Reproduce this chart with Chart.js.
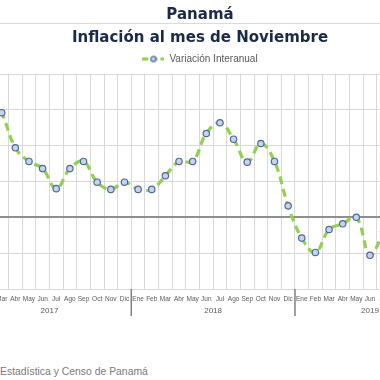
<!DOCTYPE html>
<html>
<head>
<meta charset="utf-8">
<script src="https://cdn.jsdelivr.net/npm/chart.js@4.4.1/dist/chart.umd.min.js"></script>
<style>
  html, body { margin: 0; padding: 0; background: #fff; }
  #wrap { position: relative; width: 380px; height: 380px; overflow: hidden; }
  #rule { position: absolute; left: 0; top: 23px; width: 380px; height: 1px; background: #d9d9d9; }
  #chart { position: absolute; left: -60px; top: 0; }
  #source { position: absolute; left: 0; top: 366px; font: 10.4px "Liberation Sans", sans-serif; color: #7a7a7a; white-space: nowrap; }
</style>
</head>
<body>
<div id="wrap">
  <div id="rule"></div>
  <canvas id="chart" width="520" height="330"></canvas>
  <div id="source">Estadística y Censo de Panamá</div>
</div>
<script>
const months = ['Ene', 'Feb', 'Mar', 'Abr', 'May', 'Jun', 'Jul', 'Ago', 'Sep', 'Oct', 'Nov', 'Dic',
                'Ene', 'Feb', 'Mar', 'Abr', 'May', 'Jun', 'Jul', 'Ago', 'Sep', 'Oct', 'Nov', 'Dic',
                'Ene', 'Feb', 'Mar', 'Abr', 'May', 'Jun', 'Jul', 'Ago', 'Sep', 'Oct', 'Nov'];
const years = ['2017', '2018', '2019'];
const yearStart = [0, 12, 24];
const yearEnd = [11, 23, 34];

// variación interanual (%)
const variacion = [null, 1.80, 1.46, 0.97, 0.78, 0.68, 0.40, 0.68, 0.78, 0.49, 0.39, 0.49,
                   0.39, 0.39, 0.58, 0.78, 0.78, 1.17, 1.32, 1.09, 0.77, 1.03, 0.78, 0.16,
                   -0.29, -0.49, -0.17, -0.09, 0.00, -0.53, -0.20, null, null, null, null];

// marcador de la leyenda: trazo discontinuo + círculo
const marker = document.createElement('canvas');
marker.width = 22;
marker.height = 9;
(function () {
    const c = marker.getContext('2d');
    c.strokeStyle = '#92d050';
    c.lineWidth = 3;
    c.setLineDash([6, 3]);
    c.beginPath();
    c.moveTo(0, 4.5);
    c.lineTo(22, 4.5);
    c.stroke();
    c.setLineDash([]);
    c.beginPath();
    c.arc(11, 4.5, 2.6, 0, Math.PI * 2);
    c.fillStyle = '#c9d3e3';
    c.fill();
    c.lineWidth = 1.2;
    c.strokeStyle = '#4a68a0';
    c.stroke();
})();

const yearLabels = {
    id: 'yearLabels',
    afterDraw(chart) {
        const ctx = chart.ctx;
        const x = chart.scales.x;
        const bottom = chart.chartArea.bottom;
        ctx.save();
        ctx.font = '8px "Liberation Sans", sans-serif';
        ctx.fillStyle = '#595959';
        ctx.textAlign = 'center';
        ctx.textBaseline = 'middle';
        years.forEach((y, i) => {
            const cx = (x.getPixelForValue(yearStart[i]) + x.getPixelForValue(yearEnd[i])) / 2;
            ctx.fillText(y, cx, bottom + 22);
        });
        ctx.strokeStyle = '#7f7f7f';
        ctx.lineWidth = 1.5;
        [11, 23].forEach((i) => {
            const sx = (x.getPixelForValue(i) + x.getPixelForValue(i + 1)) / 2;
            ctx.beginPath();
            ctx.moveTo(sx, bottom);
            ctx.lineTo(sx, bottom + 27);
            ctx.stroke();
        });
        ctx.restore();
    }
};

new Chart(document.getElementById('chart'), {
    type: 'line',
    data: {
        labels: months,
        datasets: [{
            label: 'Variación Interanual',
            data: variacion,
            borderColor: '#92d050',
            borderWidth: 3.2,
            borderDash: [8, 5],
            tension: 0.4,
            pointRadius: 3.2,
            pointBorderWidth: 1.2,
            pointBackgroundColor: '#c9d3e3',
            pointBorderColor: '#4a68a0',
        }],
    },
    options: {
        responsive: false,
        devicePixelRatio: 1,
        animation: false,
        layout: { padding: { left: 15, right: 15, top: 0, bottom: 0 } },
        plugins: {
            title: {
                display: true,
                text: 'Panamá',
                color: '#1b2a47',
                font: { family: '"DejaVu Sans", sans-serif', size: 15, weight: 'bold', lineHeight: 1.2 },
                padding: { top: 6, bottom: 5 },
            },
            subtitle: {
                display: true,
                text: 'Inflación al mes de Noviembre',
                color: '#1b2a47',
                font: { family: '"DejaVu Sans", sans-serif', size: 15, weight: 'bold', lineHeight: 1.2 },
                padding: { top: 0, bottom: 2 },
            },
            legend: {
                display: true,
                labels: {
                    usePointStyle: true,
                    pointStyle: marker,
                    pointStyleWidth: 22,
                    boxHeight: 9,
                    padding: 5,
                    color: '#595959',
                    font: { family: '"Liberation Sans", sans-serif', size: 10 },
                },
            },
            tooltip: { enabled: false },
        },
        scales: {
            x: {
                offset: true,
                afterFit: (s) => { s.height = 41; },
                grid: { offset: true, color: '#d9d9d9', lineWidth: 1, drawTicks: false },
                border: { display: false },
                ticks: {
                    autoSkip: false,
                    maxRotation: 0,
                    padding: 6,
                    color: '#595959',
                    font: { family: '"Liberation Sans", sans-serif', size: 6.5 },
                },
            },
            y: {
                min: -1,
                max: 2,
                afterFit: (s) => { s.width = 12.6; },
                border: { display: false },
                grid: {
                    drawTicks: false,
                    color: (c) => c.tick.value === 0 ? '#8f8f8f' : '#d9d9d9',
                    lineWidth: (c) => c.tick.value === 0 ? 2 : 1,
                },
                ticks: { display: false, stepSize: 0.5 },
            },
        },
    },
    plugins: [yearLabels],
});
</script>
</body>
</html>
